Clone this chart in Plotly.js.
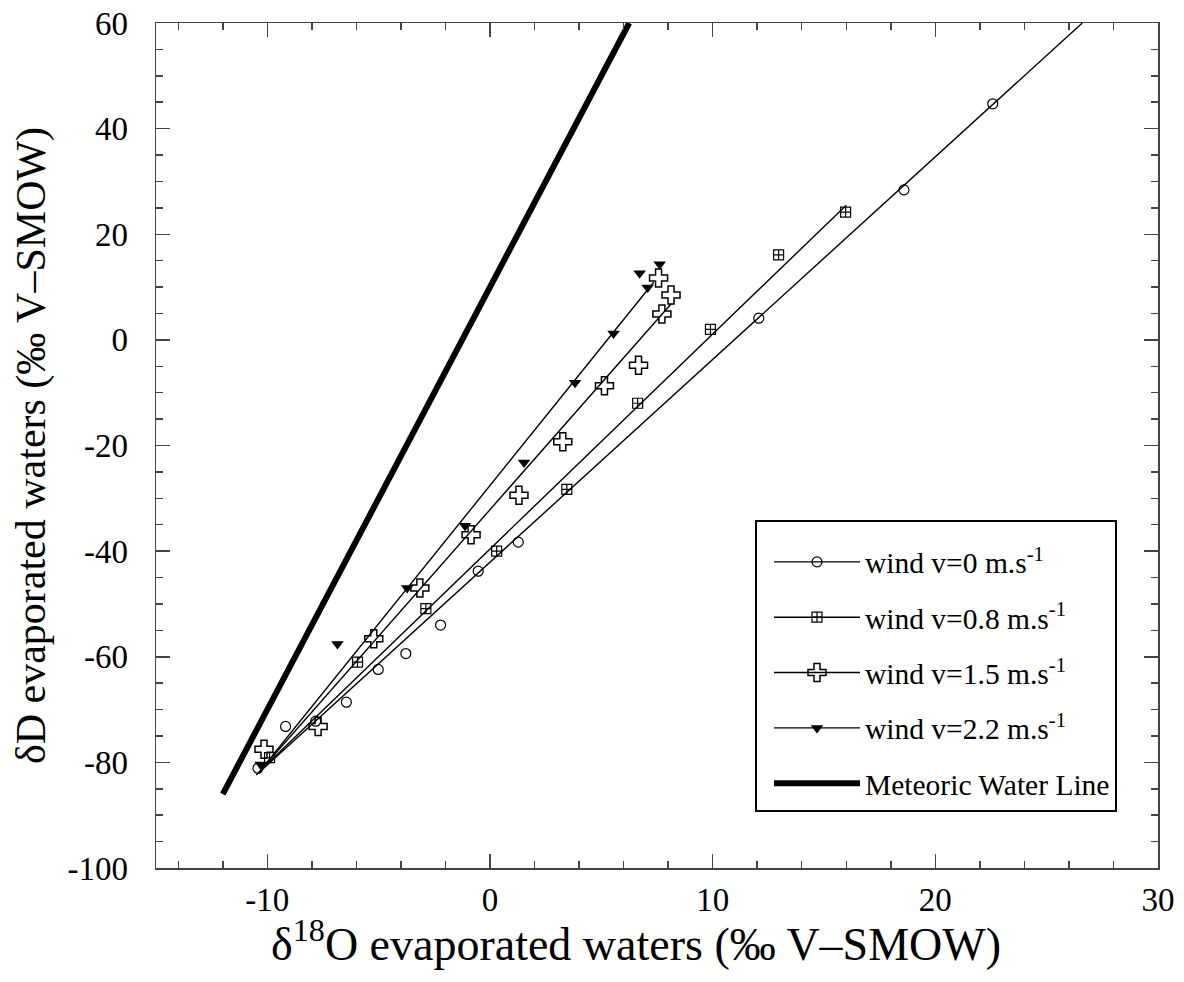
<!DOCTYPE html>
<html>
<head>
<meta charset="utf-8">
<script src="https://cdn.plot.ly/plotly-3.0.1.min.js"></script>
<style>html,body{margin:0;padding:0;background:#fff;}#chart{width:1184px;height:982px;}</style>
</head>
<body>
<div id="chart"></div>
<script>
// ---- data ----
const seriesNames = ['wind v=0 m.s<sup>-1</sup>', 'wind v=0.8 m.s<sup>-1</sup>', 'wind v=1.5 m.s<sup>-1</sup>', 'wind v=2.2 m.s<sup>-1</sup>'];
const mwlName = 'Meteoric Water Line';
const xTitle = 'δ<sup>18</sup>O evaporated waters (‰ V–SMOW)';
const yTitle = 'δD evaporated waters (‰ V–SMOW)';

// wind 0 m/s (open circles)
const o18_w0 = [-10.42, -9.18, -7.83, -6.45, -5.02, -3.78, -2.22, -0.53, 1.27, 12.07, 18.59, 22.58];
const dD_w0  = [-81.1, -73.2, -72.2, -68.6, -62.4, -59.4, -54.0, -43.8, -38.3, 4.1, 28.4, 44.7];
// wind 0.8 m/s (square with cross)
const o18_w08 = [-9.90, -5.95, -2.88, 0.30, 3.45, 6.63, 9.90, 12.96, 15.97];
const dD_w08  = [-79.1, -61.0, -50.9, -40.0, -28.3, -12.0, 2.0, 16.1, 24.2];
// wind 1.5 m/s (open plus)
const o18_w15 = [-10.15, -7.72, -5.22, -3.15, -0.85, 1.30, 3.27, 5.14, 6.67, 7.72, 8.13, 7.57];
const dD_w15  = [-77.5, -73.2, -56.6, -47.0, -36.9, -29.4, -19.3, -8.7, -4.8, 4.9, 8.5, 11.7];
// wind 2.2 m/s (filled down triangles)
const o18_w22 = [-10.30, -6.85, -3.72, -1.12, 1.53, 3.82, 5.55, 7.08, 6.72, 7.62];
const dD_w22  = [-80.4, -57.6, -47.0, -35.2, -23.2, -8.1, 1.2, 9.9, 12.6, 14.3];

// regression lines (end points)
const fitX_w0 = [-10.5, 26.6],  fitY_w0 = [-82.4, 60];
const fitX_w08 = [-10.3, 16.0], fitY_w08 = [-81.5, 25.5];
const fitX_w15 = [-10.2, 8.13], fitY_w15 = [-81.0, 6.8];
const fitX_w22 = [-10.4, 7.35], fitY_w22 = [-82.0, 10.9];
// meteoric water line
const mwlX = [-12, 6.25], mwlY = [-86, 60];

// tick labels
const xTickVals = [-10, 0, 10, 20, 30];
const xTickText = ['-10', '0', '10', '20', '30'];
const yTickVals = [-100, -80, -60, -40, -20, 0, 20, 40, 60];
const yTickText = ['-100', '-80', '-60', '-40', '-20', '0', '20', '40', '60'];

// ---- styling ----
const FONT = 'Liberation Serif, Times New Roman, serif';
const axCol = '#444';
const markers = [
  {symbol: 'circle-open', size: 10, color: '#000', line: {width: 1.2, color: '#000'}},
  {symbol: 'square-cross-open', size: 10, color: '#000', line: {width: 1.2, color: '#000'}},
  {symbol: 'cross-open', size: 15, color: '#000', line: {width: 1.5, color: '#000'}},
  {symbol: 'triangle-down', size: 11, color: '#000', line: {width: 0}}
];

const pts = [[o18_w0, dD_w0], [o18_w08, dD_w08], [o18_w15, dD_w15], [o18_w22, dD_w22]];
const fits = [[fitX_w0, fitY_w0], [fitX_w08, fitY_w08], [fitX_w15, fitY_w15], [fitX_w22, fitY_w22]];

const traces = [];
for (let i = 0; i < 4; i++) {
  traces.push({x: fits[i][0], y: fits[i][1], mode: 'lines', line: {color: '#000', width: 1.4}, showlegend: false, hoverinfo: 'skip'});
  traces.push({x: pts[i][0], y: pts[i][1], mode: 'markers', marker: markers[i], showlegend: false, cliponaxis: false});
  // legend entry
  traces.push({x: [null], y: [null], mode: 'lines+markers', name: seriesNames[i], legendgroup: 'g' + i,
    line: {color: '#000', width: 1.4}, marker: markers[i], showlegend: true});
}
traces.push({x: mwlX, y: mwlY, mode: 'lines', name: mwlName, legendgroup: 'mwl', line: {color: '#000', width: 6}, showlegend: true});

const layout = {
  width: 1184, height: 982,
  margin: {l: 156, r: 26, t: 23, b: 114},
  paper_bgcolor: '#fff', plot_bgcolor: '#fff',
  font: {family: FONT, color: '#000'},
  showlegend: true,
  legend: {
    x: 0.5978, y: 0.412, xanchor: 'left', yanchor: 'top',
    bgcolor: '#fff', bordercolor: '#000', borderwidth: 2,
    font: {family: FONT, size: 29.5, color: '#000'},
    title: {text: ' ', font: {family: FONT, size: 11}},
    itemwidth: 86, indentation: 12, tracegroupgap: 14, valign: 'top', traceorder: 'grouped'
  },
  annotations: [{
    text: xTitle, xref: 'paper', yref: 'paper', x: 0.479, y: -0.086,
    xanchor: 'center', yanchor: 'middle', showarrow: false,
    font: {family: FONT, size: 46, color: '#000'}
  }],
  xaxis: {
    range: [-15, 30], tickmode: 'array', tickvals: xTickVals, ticktext: xTickText,
    ticks: 'inside', ticklen: 14, tickwidth: 1.5, tickcolor: axCol,
    showline: true, linecolor: axCol, linewidth: 1.5, mirror: 'allticks',
    showgrid: false, zeroline: false,
    minor: {tickmode: 'linear', tick0: 0, dtick: 2, ticks: 'inside', ticklen: 7, tickwidth: 1.5, tickcolor: axCol, showgrid: false},
    tickfont: {family: FONT, size: 33, color: '#000'},
    ticklabelstandoff: 2
  },
  yaxis: {
    range: [-100, 60], tickmode: 'array', tickvals: yTickVals, ticktext: yTickText,
    ticks: 'inside', ticklen: 14, tickwidth: 1.5, tickcolor: axCol,
    showline: true, linecolor: axCol, linewidth: 1.5, mirror: 'allticks',
    showgrid: false, zeroline: false,
    minor: {tickmode: 'linear', tick0: 0, dtick: 5, ticks: 'inside', ticklen: 7, tickwidth: 1.5, tickcolor: axCol, showgrid: false},
    tickfont: {family: FONT, size: 33, color: '#000'},
    ticklabelstandoff: 20,
    title: {text: yTitle, font: {family: FONT, size: 42, color: '#000'}, standoff: 8}
  }
};

Plotly.newPlot('chart', traces, layout, {staticPlot: true, displayModeBar: false});
</script>
</body>
</html>
